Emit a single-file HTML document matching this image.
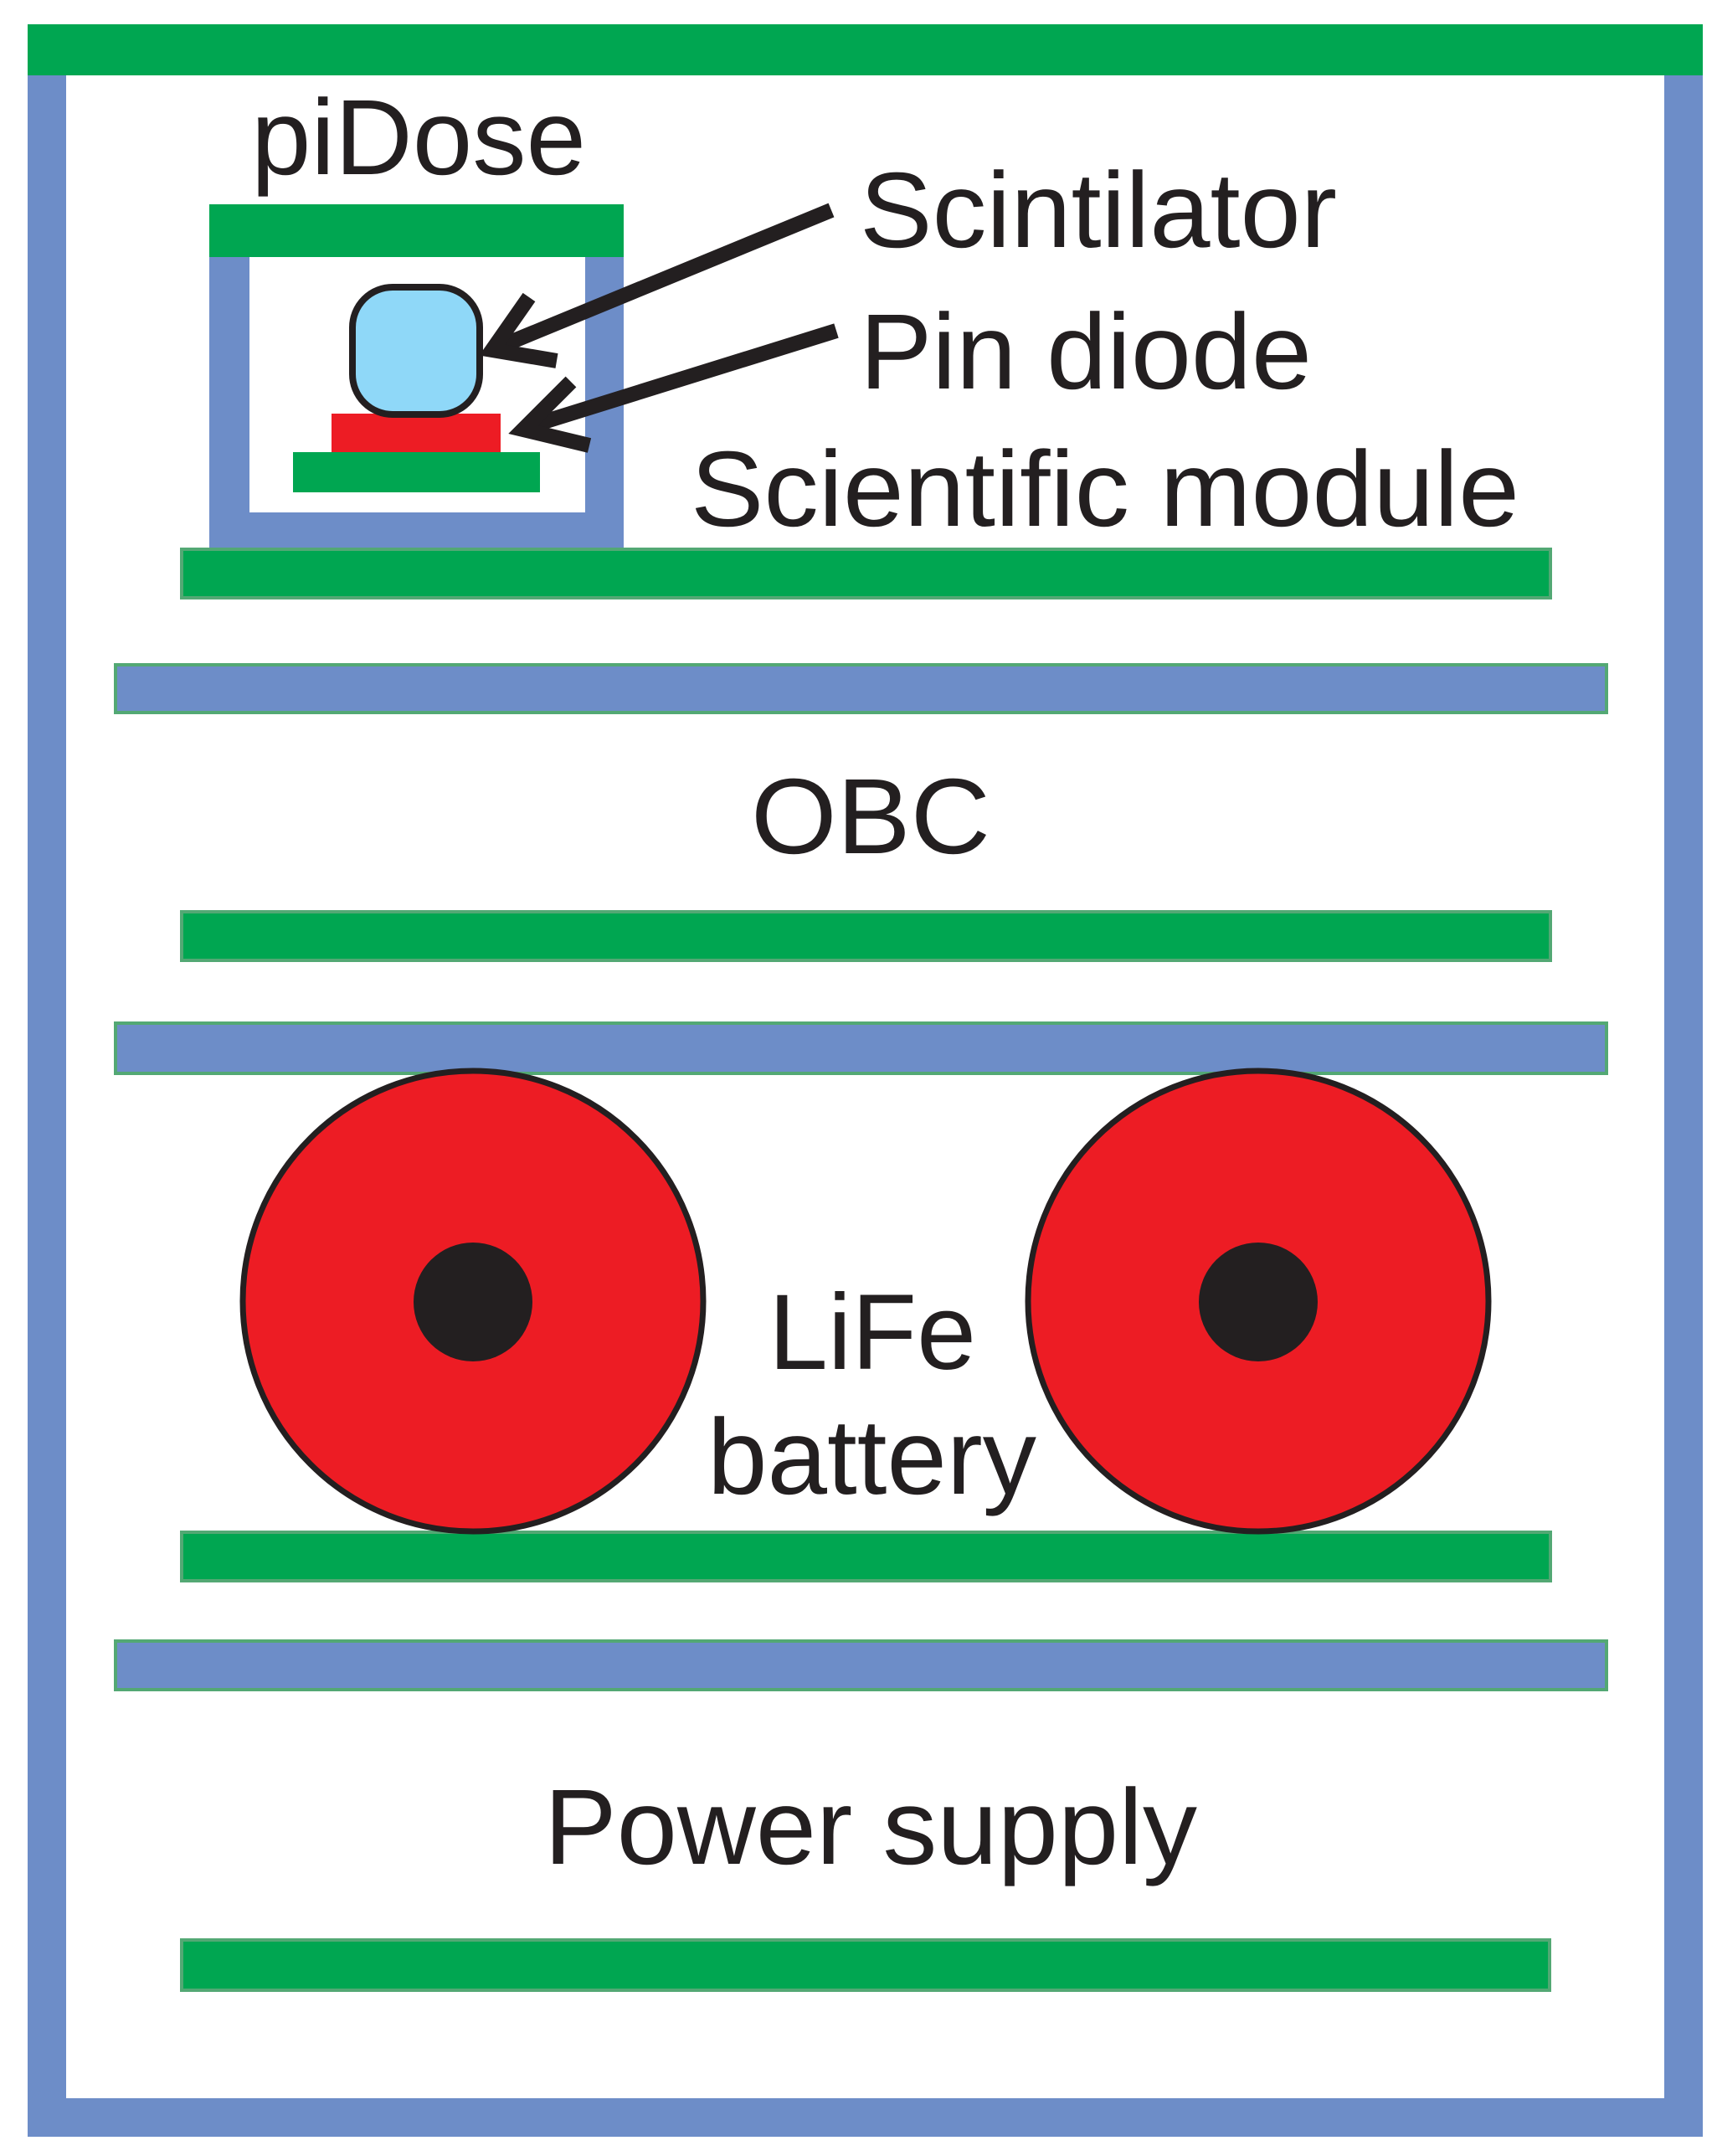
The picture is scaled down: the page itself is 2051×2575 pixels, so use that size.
<!DOCTYPE html>
<html><head><meta charset="utf-8"><style>html,body{margin:0;padding:0;background:#fff}svg{display:block}</style></head>
<body>
<svg width="2051" height="2575" viewBox="0 0 2051 2575" xmlns="http://www.w3.org/2000/svg">
<rect width="2051" height="2575" fill="#fff"/>
<!-- frame -->
<rect x="33" y="88" width="46" height="2464" fill="#6d8dc8"/>
<rect x="1988" y="88" width="46" height="2464" fill="#6d8dc8"/>
<rect x="33" y="2506" width="2001" height="46" fill="#6d8dc8"/>
<rect x="33" y="29" width="2001" height="61" fill="#00a651"/>
<!-- piDose box -->
<rect x="250" y="300" width="48" height="359" fill="#6d8dc8"/>
<rect x="699" y="300" width="46" height="359" fill="#6d8dc8"/>
<rect x="250" y="612" width="495" height="47" fill="#6d8dc8"/>
<rect x="250" y="244" width="495" height="63" fill="#00a651"/>
<rect x="350" y="540" width="295" height="48" fill="#00a651"/>
<rect x="396" y="494" width="202" height="46" fill="#ed1c24"/>
<rect x="421" y="343" width="152" height="152" rx="48" fill="#8fd8f8" stroke="#231f20" stroke-width="8"/>
<!-- arrows -->
<g stroke="#231f20" stroke-width="18" fill="none" stroke-linejoin="miter">
<line x1="993" y1="251" x2="592" y2="416"/>
<polyline points="632,355 588,418 665,431"/>
<line x1="999" y1="395" x2="630" y2="510"/>
<polyline points="682,456 625,513 704,532"/>
</g>
<!-- bars -->
<g stroke="#53a874" stroke-width="4">
<rect x="217" y="656" width="1635" height="58" fill="#00a651"/>
<rect x="138" y="794" width="1781" height="57" fill="#6d8dc8"/>
<rect x="217" y="1089" width="1635" height="58" fill="#00a651"/>
<rect x="138" y="1222" width="1781" height="60" fill="#6d8dc8"/>
<rect x="217" y="1830" width="1635" height="58" fill="#00a651"/>
<rect x="138" y="1960" width="1781" height="58" fill="#6d8dc8"/>
<rect x="217" y="2317" width="1634" height="60" fill="#00a651"/>
</g>
<!-- batteries -->
<circle cx="565" cy="1554" r="275" fill="#ed1c24" stroke="#231f20" stroke-width="7"/>
<circle cx="565" cy="1555" r="71" fill="#231f20"/>
<circle cx="1503" cy="1554" r="275" fill="#ed1c24" stroke="#231f20" stroke-width="7"/>
<circle cx="1503" cy="1555" r="71" fill="#231f20"/>
<!-- text -->
<g font-family="Liberation Sans, sans-serif" fill="#231f20" font-size="128">
<text x="300" y="208" textLength="400" lengthAdjust="spacingAndGlyphs">piDose</text>
<text x="1027" y="295" textLength="570" lengthAdjust="spacingAndGlyphs">Scintilator</text>
<text x="1027" y="464" textLength="540" lengthAdjust="spacingAndGlyphs">Pin diode</text>
<text x="825" y="628" textLength="990" lengthAdjust="spacingAndGlyphs">Scientific module</text>
<text x="897" y="1019" textLength="286" lengthAdjust="spacingAndGlyphs">OBC</text>
<text x="918" y="1635" textLength="248" lengthAdjust="spacingAndGlyphs">LiFe</text>
<text x="845" y="1784" textLength="393" lengthAdjust="spacingAndGlyphs">battery</text>
<text x="650" y="2226" textLength="780" lengthAdjust="spacingAndGlyphs">Power supply</text>
</g>
</svg>
</body></html>
